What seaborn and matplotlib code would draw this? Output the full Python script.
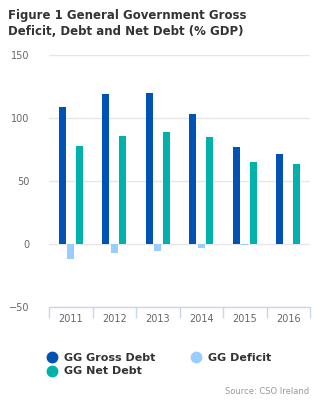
import matplotlib
matplotlib.use("Agg")
import matplotlib.pyplot as plt
from matplotlib.lines import Line2D
import seaborn as sns
import pandas as pd

years = ["2011", "2012", "2013", "2014", "2015", "2016"]
gross_debt = [109, 119, 119.5, 103.5, 76.5, 71.5]
deficit = [-12, -7.7, -5.6, -3.0, -1.2, -0.3]
net_debt = [78, 86, 88.5, 85, 65, 63]
series_names = ["GG Gross Debt", "GG Deficit", "GG Net Debt"]
colors = {"GG Gross Debt": "#0052B4", "GG Deficit": "#99CCFF", "GG Net Debt": "#00B2A9"}

df = pd.DataFrame({
    "year": years * 3,
    "value": gross_debt + deficit + net_debt,
    "series": [series_names[0]] * 6 + [series_names[1]] * 6 + [series_names[2]] * 6,
})

sns.set_theme(style="white")
plt.rcParams['font.family'] = ['DejaVu Sans']

fig = plt.figure(figsize=(3.2, 4.0), dpi=100)
ax = fig.add_axes([49 / 320, 1 - 306.7 / 400, 261 / 320, (306.7 - 55) / 400])

sns.barplot(data=df, x="year", y="value", hue="series", hue_order=series_names,
            palette=colors, width=0.586, gap=0.2, ax=ax, legend=False,
            saturation=1, errorbar=None, linewidth=0)

ax.set_ylim(-50, 150)
ax.set_xlim(-0.5, 5.5)
ax.set_yticks([-50, 0, 50, 100, 150])
ax.set_yticklabels(["\u221250", "0", "50", "100", "150"])
ax.yaxis.grid(True, color="#e6e6e6", linewidth=1)
ax.set_axisbelow(True)
for s in ["top", "right", "left"]:
    ax.spines[s].set_visible(False)
ax.spines["bottom"].set_color("#ccd6eb")
ax.spines["bottom"].set_linewidth(1)
ax.set_xlabel("")
ax.set_ylabel("")
ax.tick_params(axis="y", length=0, labelsize=7, labelcolor="#666666", pad=14)
ax.tick_params(axis="x", which="major", length=0, labelsize=7, labelcolor="#666666", pad=5)
ax.set_xticks([i - 0.5 for i in range(7)], minor=True)
ax.tick_params(axis="x", which="minor", bottom=True, length=8, color="#ccd6eb", width=1)

fig.text(8 / 320, 1 - 23.5 / 400, "Figure 1 General Government Gross\nDeficit, Debt and Net Debt (% GDP)",
         fontsize=8.5, fontweight="bold", color="#333333", va="center", ha="left",
         linespacing=1.25)

handles = [Line2D([], [], marker="o", linestyle="", markersize=7.5,
                  markerfacecolor=colors[n], markeredgecolor=colors[n]) for n in
           ["GG Gross Debt", "GG Net Debt", "GG Deficit"]]
labels = ["GG Gross Debt", "GG Net Debt", "GG Deficit"]
leg = fig.legend(handles, labels, ncol=2, loc="upper left",
                 bbox_to_anchor=(40 / 320, 1 - 347 / 400), frameon=False,
                 prop={"size": 8, "weight": "bold"}, handletextpad=0.5,
                 columnspacing=3.0, labelspacing=0.35, handlelength=1.2, borderpad=0)
for t in leg.get_texts():
    t.set_color("#333333")

fig.text(309 / 320, 1 - 392 / 400, "Source: CSO Ireland", fontsize=6, color="#999999",
         ha="right", va="center")

fig.savefig("out.png", dpi=100)
